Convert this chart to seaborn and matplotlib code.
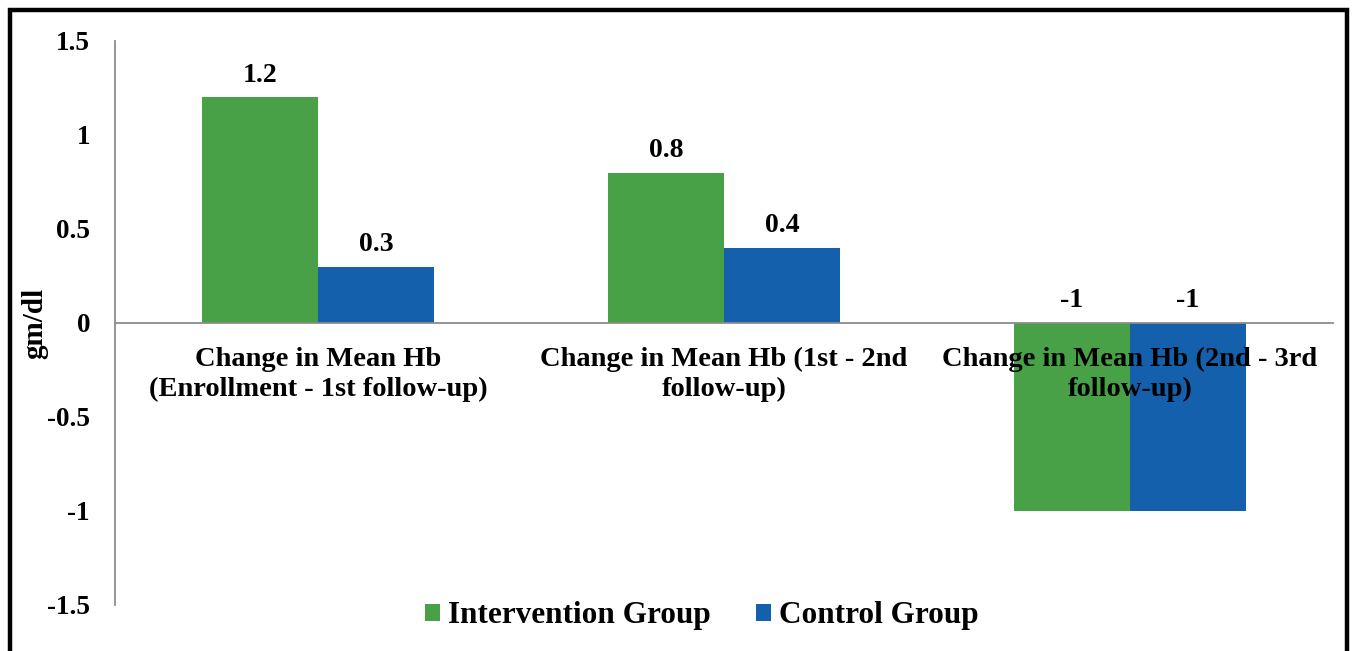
import matplotlib
matplotlib.use("Agg")
import matplotlib.pyplot as plt
from matplotlib.patches import Rectangle, Patch
import seaborn as sns
import pandas as pd

categories = [
    "Change in Mean Hb\n(Enrollment - 1st follow-up)",
    "Change in Mean Hb (1st - 2nd\nfollow-up)",
    "Change in Mean Hb (2nd - 3rd\nfollow-up)",
]
groups = ["Intervention Group", "Control Group"]
intervention = [1.2, 0.8, -1]
control = [0.3, 0.4, -1]
yticks = [-1.5, -1, -0.5, 0, 0.5, 1, 1.5]
colors = ["#48A146", "#1560AC"]

df = pd.DataFrame({
    "category": categories * 2,
    "group": [groups[0]] * 3 + [groups[1]] * 3,
    "value": intervention + control,
})

sns.set_style("white")
plt.rcParams["font.family"] = ["Liberation Serif", "DejaVu Serif"]
plt.rcParams["font.weight"] = "bold"
plt.rcParams["text.color"] = "black"
plt.rcParams["axes.labelcolor"] = "black"
plt.rcParams["xtick.labelcolor"] = "black"
plt.rcParams["ytick.labelcolor"] = "black"

fig = plt.figure(figsize=(13.52, 6.51), dpi=100)
ax = fig.add_axes([115 / 1352, 1 - 605 / 651, (1333 - 115) / 1352, (605 - 41) / 651])

sns.barplot(data=df, x="category", y="value", hue="group", order=categories,
            hue_order=groups, palette=colors, width=0.572, saturation=1,
            edgecolor="none", linewidth=0, ax=ax, legend=False)

# axis lines and category names sit on top of the bars
ax.set_axisbelow(False)

ax.set_xlim(-0.5, 2.5)
ax.set_ylim(-1.5, 1.5)
ax.set_yticks(yticks)
ax.set_yticklabels([f"{v:g}" for v in yticks], fontsize=19.5, fontweight="bold")

# category axis runs along zero, ticks at category boundaries
ax.spines["bottom"].set_position(("data", 0))
for s in ("top", "right"):
    ax.spines[s].set_visible(False)
for s in ("left", "bottom"):
    ax.spines[s].set_color("#8c8c8c")
    ax.spines[s].set_linewidth(1.3)
ax.set_xticks([-0.5, 0.5, 1.5, 2.5], minor=True)
ax.tick_params(axis="x", which="minor", length=6, width=1.3, color="#8c8c8c", direction="out")
ax.tick_params(axis="x", which="major", length=0, pad=17, labelcolor="black")
ax.tick_params(axis="y", length=6, width=1.3, color="#8c8c8c", pad=12, labelcolor="black")
for lab in ax.get_xticklabels():
    lab.set_fontsize(20.5)
    lab.set_fontweight("bold")
    lab.set_linespacing(1.25)

ax.set_xlabel("")
ax.set_ylabel("gm/dl", fontsize=21, fontweight="bold", color="black")
ax.yaxis.set_label_coords(-0.055, 0.5)

# value labels: above the bar end, or above the zero line for negative values
for container, vals in zip(ax.containers, [intervention, control]):
    for bar, v in zip(container, vals):
        x = bar.get_x() + bar.get_width() / 2
        ax.annotate(f"{v:g}", (x, max(v, 0)), xytext=(0, 7), textcoords="offset points",
                    ha="center", va="bottom", fontsize=20, fontweight="bold", color="black")

handles = [Patch(facecolor=c, edgecolor="none") for c in colors]
fig.legend(handles, groups, loc="center", bbox_to_anchor=(0.519, 1 - 616 / 651),
           ncol=2, frameon=False, handlelength=0.48, handleheight=0.48,
           handletextpad=0.25, columnspacing=1.45, labelcolor="black",
           prop={"family": "Liberation Serif", "weight": "bold", "size": 22.5})

# outer frame
fig.patches.append(Rectangle((10 / 1352, -0.05), 1337 / 1352, 1.05 - 10 / 651,
                             transform=fig.transFigure, fill=False,
                             edgecolor="black", linewidth=3.2))

fig.savefig("out.png", dpi=100)
